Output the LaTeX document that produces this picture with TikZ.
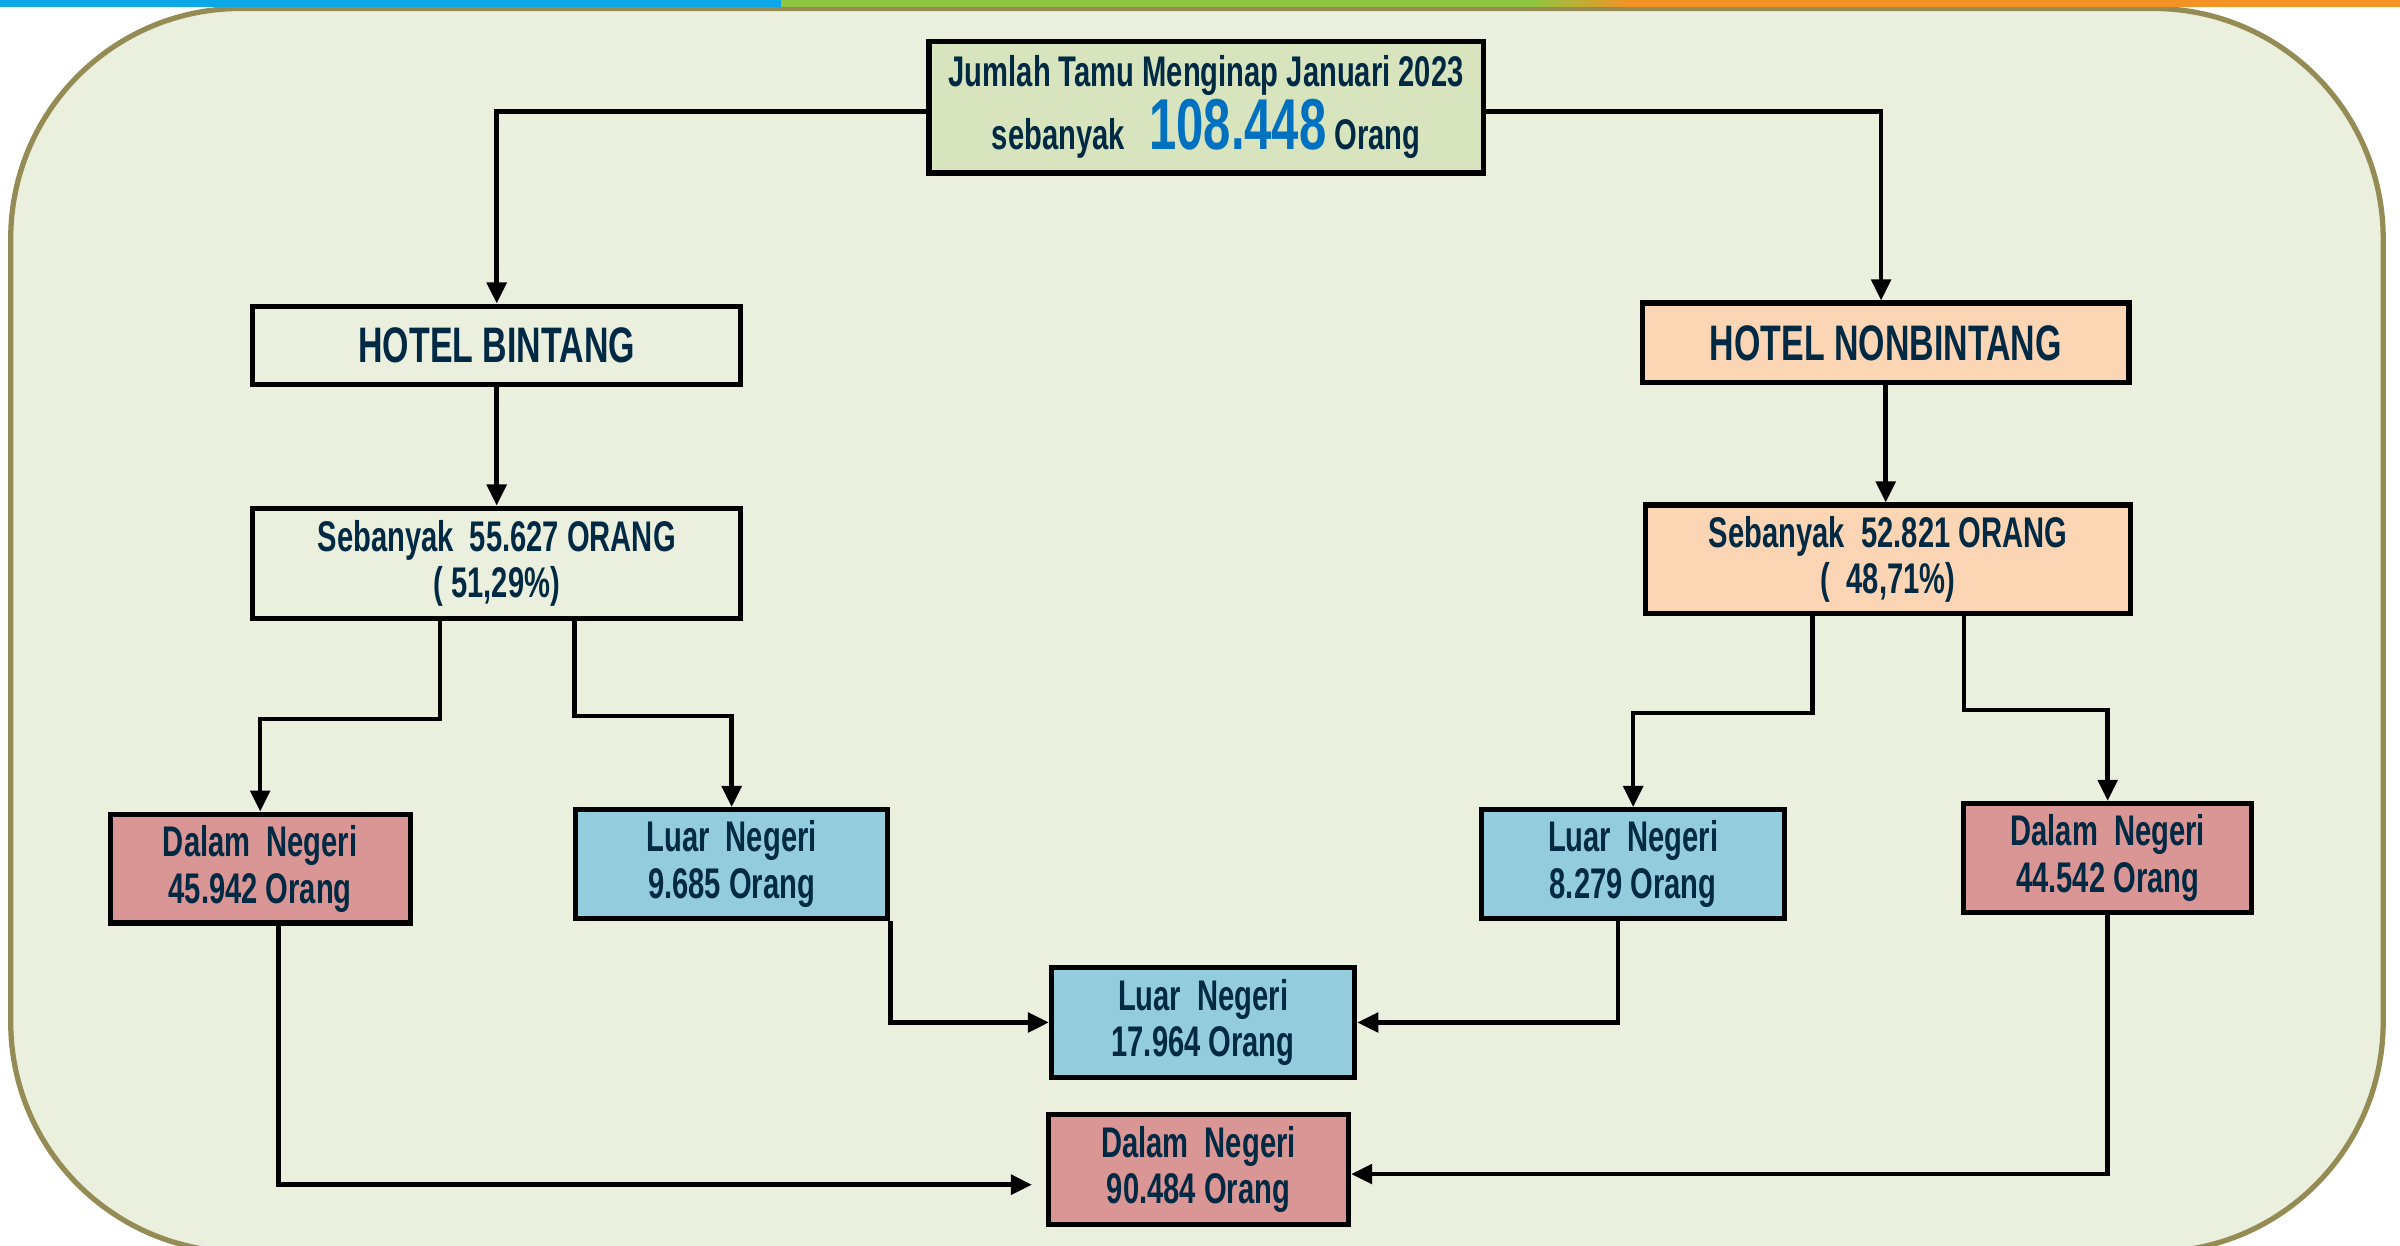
\documentclass[tikz,border=0pt]{standalone}
\usepackage{fontspec}
\setmainfont{Liberation Sans}[FakeStretch=0.68]
\usetikzlibrary{arrows.meta,calc}
\definecolor{bgfill}{HTML}{EBF0DE}
\definecolor{framec}{HTML}{958B54}
\definecolor{topfill}{HTML}{D7E4BD}
\definecolor{peach}{HTML}{FCD5B5}
\definecolor{rosef}{HTML}{DA9694}
\definecolor{aquaf}{HTML}{93CDDD}
\definecolor{txt}{RGB}{0,41,68}
\definecolor{bignum}{HTML}{0070C0}
\definecolor{barblue}{HTML}{0AA8E6}
\definecolor{bargreen}{HTML}{8DC63F}
\definecolor{barorange}{HTML}{F39325}
\begin{document}
\begin{tikzpicture}[x=0.015306cm,y=-0.015306cm,
  box/.style={draw=black,line width=1.5pt,inner sep=0pt,align=center,text=txt,
    font=\bfseries\fontsize{12.2}{13.3}\selectfont},
  sz/.style 2 args={minimum width=#1*0.015306cm,minimum height=#2*0.015306cm},
  arr/.style={line width=1.3pt,-{Triangle[length=6pt,width=5.5pt]}},
  hfont/.style={font=\bfseries\fontsize{14.2}{15}\selectfont}
]
\useasboundingbox (0,0) rectangle (1568,814);
% outer frame
\draw[draw=framec,line width=1.5pt,fill=bgfill,rounded corners=2.3cm] (7,5.5) rectangle (1557,818);
% top colour bar
\fill[barblue] (0,0) rectangle (510,4.4);
\fill[bargreen] (510,0) rectangle (1000,4.4);
\shade[left color=bargreen,right color=barorange] (1000,0) rectangle (1065,4.4);
\fill[barorange] (1065,0) rectangle (1568,4.4);

% nodes
\node[box,sz={362}{86},fill=topfill] (top) at (788,70)
  {Jumlah Tamu Menginap Januari 2023\\
   sebanyak\hspace{7pt}{\color{bignum}\fontsize{20.5}{21}\selectfont 108.448} Orang};
\node[box,hfont,sz={319}{51},fill=bgfill] (hb) at (324.5,225.5) {HOTEL BINTANG};
\node[box,hfont,sz={318}{52},fill=peach] (hnb) at (1232,224) {HOTEL NONBINTANG};
\node[box,sz={319}{72},fill=bgfill] (s1) at (324.5,368) {Sebanyak~~55.627 ORANG\\( 51,29\%)};
\node[box,sz={317}{71},fill=peach] (s2) at (1233.5,365.5) {Sebanyak~~52.821 ORANG\\(~~48,71\%)};
\node[box,sz={196}{71},fill=rosef] (dn1) at (170,567.5) {Dalam~~Negeri\\45.942 Orang};
\node[box,sz={204}{71},fill=aquaf] (ln1) at (478,564.5) {Luar~~Negeri\\9.685 Orang};
\node[box,sz={198}{71},fill=aquaf] (ln2) at (1067,564.5) {Luar~~Negeri\\8.279 Orang};
\node[box,sz={188}{71},fill=rosef] (dn2) at (1377,560.5) {Dalam~~Negeri\\44.542 Orang};
\node[box,sz={198}{72},fill=aquaf] (lnt) at (786,668) {Luar~~Negeri\\17.964 Orang};
\node[box,sz={196}{72},fill=rosef] (dnt) at (783,764) {Dalam~~Negeri\\90.484 Orang};
\coordinate (dntin) at ($(dnt.west)+(-9,10)$);

% connectors
\draw[arr] ($(top.west)+(0,3)$) -| (hb.north);
\draw[arr] ($(top.east)+(0,3)$) -| ($(hnb.north)+(-3,0)$);
\draw[arr] (hb.south) -- (s1.north);
\draw[arr] (hnb.south) -- (hnb.south |- s2.north);
\draw[arr] ($(s1.south)+(-37,0)$) -- ++(0,64) -| (dn1.north);
\draw[arr] ($(s1.south)+(51,0)$) -- ++(0,62) -| (ln1.north);
\draw[arr] ($(s2.south)+(-49.5,0)$) -- ++(0,63) -| (ln2.north);
\draw[arr] ($(s2.south)+(49.5,0)$) -- ++(0,61) -| (dn2.north);
\draw[arr] (ln1.south east) |- (lnt.west);
\draw[arr] ($(ln2.south)+(-10,0)$) |- (lnt.east);
\draw[arr] ($(dn1.south)+(12,0)$) |- (dntin);
\draw[arr] (dn2.south) |- ($(dnt.east)+(0,3)$);
\end{tikzpicture}
\end{document}
